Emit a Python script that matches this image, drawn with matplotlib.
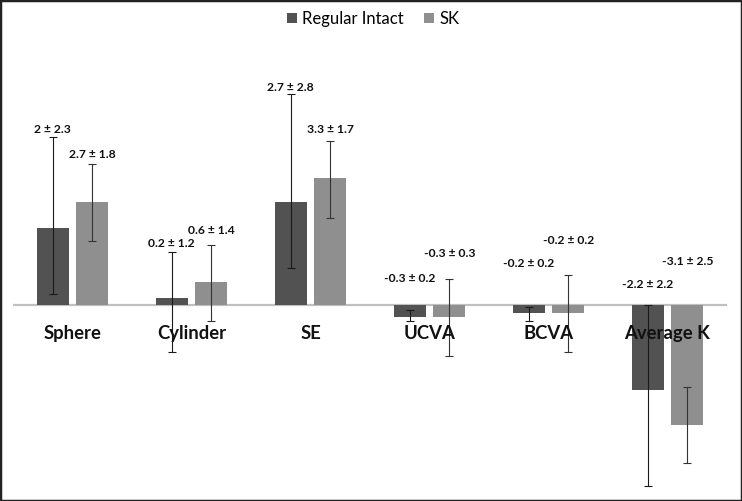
import numpy as np
import matplotlib.pyplot as plt
from matplotlib.patches import Patch, Rectangle

plt.rcParams['font.family'] = ['Lato', 'DejaVu Sans']

# Categories and values (mean, SD as printed in the labels)
categories = ["Sphere", "Cylinder", "SE", "UCVA", "BCVA", "Average K"]
regular_mean = [2.0, 0.2, 2.7, -0.3, -0.2, -2.2]
regular_sd = [2.3, 1.2, 2.8, 0.2, 0.2, 2.2]
sk_mean = [2.7, 0.6, 3.3, -0.3, -0.2, -3.1]
sk_sd = [1.8, 1.4, 1.7, 0.3, 0.2, 2.5]

# Error bar ends as drawn in the picture (not symmetric)
regular_err_low = [0.30, -1.21, 0.98, -0.41, -0.40, -4.69]
regular_err_high = [4.38, 1.39, 5.49, -0.11, -0.03, 0.0]
sk_err_low = [1.68, -0.40, 2.27, -1.32, -1.22, -4.10]
sk_err_high = [3.68, 1.57, 4.27, 0.68, 0.79, -2.11]

# Where the value labels sit (baseline, data units)
regular_label_y = [4.48, 1.52, 5.58, 0.62, 1.0, 0.46]
sk_label_y = [3.84, 1.86, 4.48, 1.26, 1.6, 1.05]

reg_color = "#525252"
sk_color = "#8f8f8f"

fig = plt.figure(figsize=(7.42, 5.01), dpi=100)
ax = fig.add_axes([13 / 742, 0, 714 / 742, 1])

x = np.arange(len(categories))
width = 0.269
off = 0.166

reg = np.array(regular_mean)
sk = np.array(sk_mean)
reg_yerr = [reg - np.array(regular_err_low), np.array(regular_err_high) - reg]
sk_yerr = [sk - np.array(sk_err_low), np.array(sk_err_high) - sk]

ax.bar(x - off, reg, width, color=reg_color, zorder=2)
ax.bar(x + off, sk, width, color=sk_color, zorder=2)
ax.errorbar(x - off, reg, yerr=reg_yerr, fmt='none', ecolor='#1a1a1a',
            elinewidth=0.8, capsize=3.2, capthick=0.8, zorder=3)
ax.errorbar(x + off, sk, yerr=sk_yerr, fmt='none', ecolor='#333333',
            elinewidth=0.8, capsize=3.2, capthick=0.8, zorder=3)

ax.axhline(0, color='#c0c0c0', linewidth=1.6, zorder=1)

# value labels
for i in range(len(categories)):
    ax.text(x[i] - off, regular_label_y[i], f"{regular_mean[i]:g} ± {regular_sd[i]:g}",
            ha='center', va='baseline', fontsize=8.7, fontweight='bold', color='#111111', zorder=4)
    ax.text(x[i] + off, sk_label_y[i], f"{sk_mean[i]:g} ± {sk_sd[i]:g}",
            ha='center', va='baseline', fontsize=8.7, fontweight='bold', color='#111111', zorder=4)

# category names sit just under the zero line
for i, name in enumerate(categories):
    ax.text(x[i], -0.86, name, ha='center', va='baseline', fontsize=13.3,
            fontweight='bold', color='#111111', zorder=5)

ax.set_xlim(-0.5, len(categories) - 0.5)
ax.set_ylim(-5.078, 7.935)
ax.axis('off')

handles = [Patch(facecolor=reg_color, label="Regular Intact"),
           Patch(facecolor=sk_color, label="SK")]
fig.legend(handles=handles, loc='center', bbox_to_anchor=(0.503, 0.962), ncol=2,
           frameon=False, fontsize=12, handlelength=0.6, handleheight=0.6,
           handletextpad=0.3, columnspacing=1.2)

fig.patches.append(Rectangle((0, 0), 1, 1, transform=fig.transFigure, fill=False,
                             edgecolor='#222222', linewidth=2.5))

fig.savefig("out.png", dpi=100)
